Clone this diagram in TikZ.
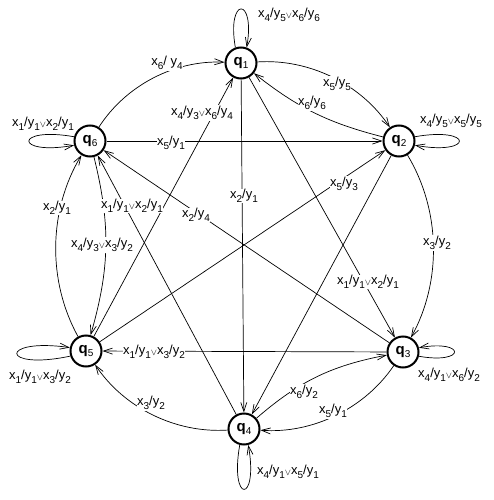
\documentclass[tikz,border=0pt]{standalone}
\usepackage{fontspec}
\setmainfont{Liberation Sans}
\usetikzlibrary{arrows.meta}
\newcommand{\sbx}[1]{\raisebox{-0.35em}{\fontsize{10}{10}\selectfont #1}}
\newcommand{\xy}[2]{x\sbx{#1}/y\sbx{#2}}
\newcommand{\orr}{\raisebox{-0.05em}{$\scriptstyle\vee$}}
\newcommand{\qq}[1]{{\fontsize{15}{15}\selectfont\bfseries q}\sbx{#1}}
\begin{document}
\begin{tikzpicture}[x=1pt,y=1pt,
  state/.style={circle,draw,line width=2pt,minimum size=31pt,inner sep=0pt},
  lbl/.style={fill=white,inner sep=0.5pt,font=\fontsize{13}{15}\selectfont},
  arr/.style={-{Straight Barb[length=9pt,width=6pt]},line width=0.7pt}]
\useasboundingbox (0,0) rectangle (494,-500);
% states
\node[state] (q1) at (241,-63) {\qq1};
\node[state] (q2) at (399,-141) {\qq2};
\node[state] (q3) at (403,-352) {\qq3};
\node[state] (q4) at (244,-429) {\qq4};
\node[state] (q5) at (86,-351) {\qq5};
\node[state] (q6) at (90,-141) {\qq6};
% outer arcs
\draw[arr] (q6) to[bend left=30,looseness=0.9] (q1);
\draw[arr] (q1) to[bend left=30,looseness=0.9] (q2);
\draw[arr] (q2) to[bend left=30,looseness=0.9] (q3);
\draw[arr] (q3) to[bend left=30,looseness=0.9] (q4);
\draw[arr] (q4) to[bend left=30,looseness=0.9] (q5);
\draw[arr] (q5) to[bend left=30,looseness=0.9] (q6);
% inner arcs
\draw[arr] (q2) to[bend left=12] (q1);
\draw[arr] (q6) to[bend left=15] (q5);
\draw[arr] (q4) to[bend left=15] (q3);
% straight edges
\draw[arr] (q6) -- (q2);
\draw[arr] (q1) -- (q3);
\draw[arr] (q3) -- (q6);
\draw[arr] (q1) -- (q4);
\draw[arr] (q2) -- (q4);
\draw[arr] (q5) -- (q1);
\draw[arr] (q5) -- (q2);
\draw[arr] (q4) -- (q6);
\draw[arr] (q3) -- (q5);
% loops
\draw[arr] (q1.110) .. controls +(100:52) and +(80:52) .. (q1.70);
\draw[arr] (q2.15) .. controls +(10:60) and +(-10:60) .. (q2.-15);
\draw[arr] (q3.-15) .. controls +(-10:48) and +(10:48) .. (q3.15);
\draw[arr] (q4.255) .. controls +(-100:60) and +(-80:60) .. (q4.285);
\draw[arr] (q5.198) .. controls +(192:72) and +(172:72) .. (q5.168);
\draw[arr] (q6.165) .. controls +(170:61) and +(190:61) .. (q6.195);
% labels
\node[lbl] (l1) at (289,-15) {\xy45\orr\xy66};
\node[lbl] (l2) at (167,-63) {x\sbx{6}/ y\sbx{4}};
\node[lbl] (l3) at (337,-84) {\xy55};
\node[lbl] (l4) at (312,-103) {\xy66};
\node[lbl] (l5) at (451,-121) {\xy45\orr\xy55};
\node[lbl] (l6) at (43,-124) {\xy11\orr\xy21};
\node[lbl] (l7) at (202,-113) {\xy43\orr\xy64};
\node[lbl] (l8) at (171,-143) {\xy51};
\node[lbl] (l9) at (244,-196) {\xy21};
\node[lbl] (l10) at (344,-184) {\xy53};
\node[lbl] (l11) at (57,-208) {\xy21};
\node[lbl] (l12) at (132,-206) {\xy11\orr\xy21};
\node[lbl] (l13) at (196,-215) {\xy24};
\node[lbl] (l14) at (437,-243) {\xy32};
\node[lbl] (l15) at (102,-245) {\xy43\orr\xy32};
\node[lbl] (l16) at (368,-282) {\xy11\orr\xy21};
\node[lbl] (l17) at (40,-377) {\xy11\orr\xy32};
\node[lbl] (l18) at (154,-352) {\xy11\orr\xy32};
\node[lbl] (l19) at (449,-375) {\xy41\orr\xy62};
\node[lbl] (l20) at (151,-403) {\xy32};
\node[lbl] (l21) at (304,-392) {\xy62};
\node[lbl] (l22) at (333,-411) {\xy51};
\node[lbl] (l23) at (288,-472) {\xy41\orr\xy51};
\end{tikzpicture}
\end{document}
